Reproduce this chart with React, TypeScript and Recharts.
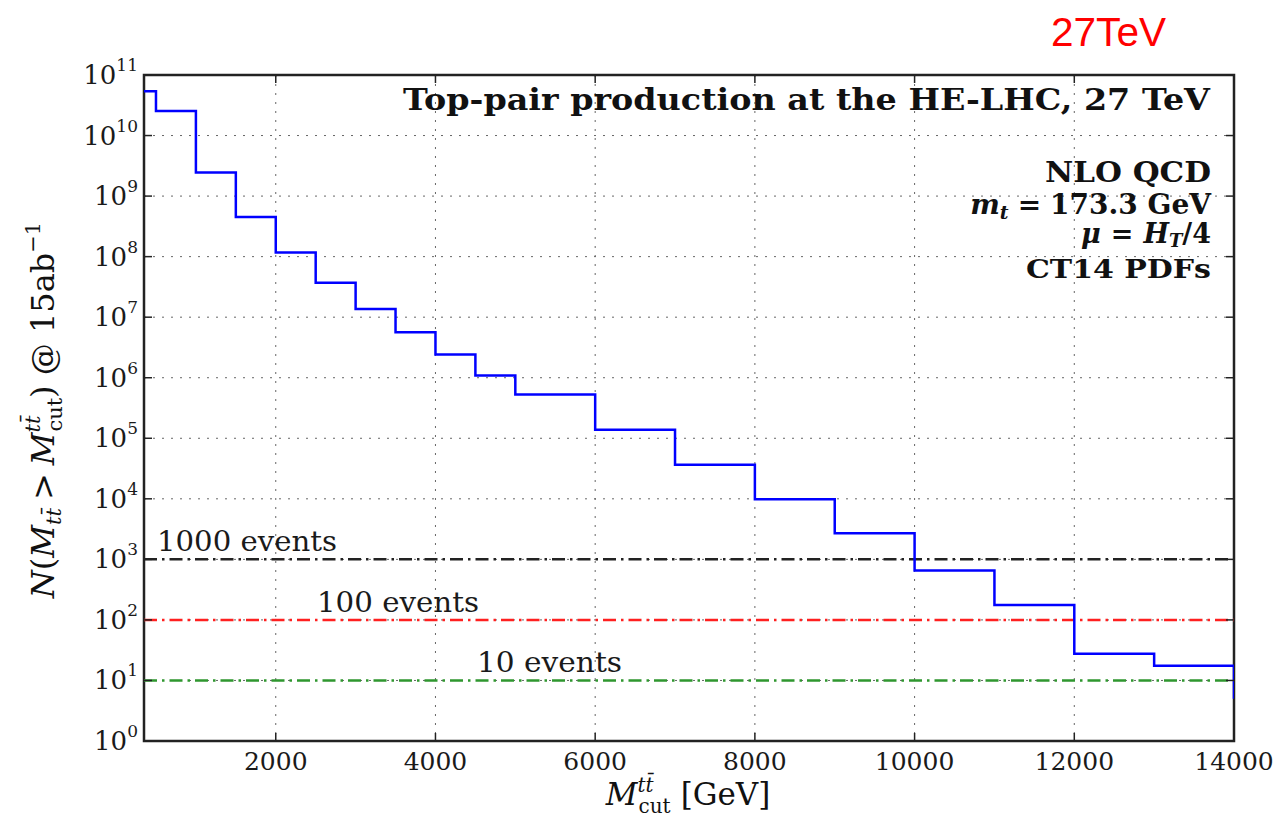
import React from 'react';
import {
  LineChart,
  Line,
  XAxis,
  YAxis,
  CartesianGrid,
  ReferenceLine,
  ReferenceArea,
} from 'recharts';

// bin lower edges [GeV] and cumulative event counts N(M > Mcut) @ 15 ab^-1
const binEdges = [350, 500, 1000, 1500, 2000, 2500, 3000, 3500, 4000, 4500, 5000, 6000, 7000, 8000, 9000, 10000, 11000, 12000, 13000, 14000];
const eventCounts = [5.4e10, 2.55e10, 2.45e9, 4.5e8, 1.17e8, 3.7e7, 1.37e7, 5.65e6, 2.42e6, 1.09e6, 5.3e5, 1.38e5, 3.64e4, 9.8e3, 2.71e3, 656, 176, 27.6, 17.5, 5];

const xTicks = [2000, 4000, 6000, 8000, 10000, 12000, 14000];
const yTicks = [1, 10, 100, 1e3, 1e4, 1e5, 1e6, 1e7, 1e8, 1e9, 1e10, 1e11];

const thresholds = [1000, 100, 10];
const thresholdLabels = ['1000 events', '100 events', '10 events'];
const thresholdColors = ['#222222', '#ff2020', '#2f972f'];

const data = binEdges.map((m, i) => ({ m, n: eventCounts[i] }));

const SERIF = '"DejaVu Serif", "Liberation Serif", serif';
const PLOT_W = 1090;
const PLOT_H = 666;

const XTick = ({ x, y, payload }: any) => (
  <g>
    <line x1={x} x2={x} y1={y - 7} y2={y - 15} stroke="#222" strokeWidth={1.5} />
    <line x1={x} x2={x} y1={y - 7 - PLOT_H} y2={y + 1 - PLOT_H} stroke="#222" strokeWidth={1.5} />
    <text x={x} y={y} dy={22} textAnchor="middle" fontFamily={SERIF} fontSize={25} fill="#1a1a1a">
      {payload.value}
    </text>
  </g>
);

const YTick = ({ x, y, payload }: any) => {
  const exp = Math.round(Math.log10(payload.value));
  return (
    <g>
      <line x1={x + 6} x2={x + 14} y1={y} y2={y} stroke="#222" strokeWidth={1.5} />
      <line x1={x + 6 + PLOT_W - 8} x2={x + 6 + PLOT_W} y1={y} y2={y} stroke="#222" strokeWidth={1.5} />
      <text x={x} y={y} textAnchor="end" fontFamily={SERIF} fill="#1a1a1a">
        <tspan dy={9} fontSize={26}>10</tspan>
        <tspan dy={-13} fontSize={17}>{exp}</tspan>
      </text>
    </g>
  );
};

const EventLabel = ({ viewBox, text, dx, w }: any) => (
  <text
    x={viewBox.x + dx}
    y={viewBox.y - 8}
    fontFamily={SERIF}
    fontSize={28}
    fill="#1a1a1a"
    textLength={w}
    lengthAdjust="spacingAndGlyphs"
  >
    {text}
  </text>
);

const labelOffsets = [13, 173, 333];
const labelWidths = [180, 162, 145];

export default function App() {
  return (
    <div style={{ position: 'absolute', left: 0, top: 0, width: 1286, height: 822, background: '#fff' }}>
      <LineChart width={1286} height={822} data={data} margin={{ top: 75, right: 52, bottom: 0, left: 0 }}>
        <CartesianGrid stroke="#666" strokeDasharray="2 7" />
        <XAxis
          dataKey="m"
          type="number"
          domain={[350, 14000]}
          ticks={xTicks}
          allowDataOverflow
          height={81}
          tickSize={0}
          tickMargin={7}
          axisLine={false}
          tick={<XTick />}
        />
        <YAxis
          type="number"
          scale="log"
          domain={[1, 1e11]}
          ticks={yTicks}
          allowDataOverflow
          width={144}
          tickSize={0}
          tickMargin={6}
          axisLine={false}
          tick={<YTick />}
        />
        {thresholds.map((t, i) => (
          <ReferenceLine
            key={t}
            y={t}
            stroke={thresholdColors[i]}
            strokeWidth={2.5}
            strokeDasharray="13 5 2.5 5"
            label={<EventLabel text={thresholdLabels[i]} dx={labelOffsets[i]} w={labelWidths[i]} />}
          />
        ))}
        <Line
          type="stepAfter"
          dataKey="n"
          stroke="#0000ff"
          strokeWidth={2.5}
          dot={false}
          isAnimationActive={false}
        />
        <ReferenceArea
          x1={350}
          x2={14000}
          y1={1}
          y2={1e11}
          fill="none"
          fillOpacity={0}
          stroke="#222"
          strokeWidth={2.5}
          ifOverflow="visible"
        />
      </LineChart>
      <svg width={1286} height={822} style={{ position: 'absolute', left: 0, top: 0, pointerEvents: 'none' }}>
        <text x={1051} y={46} fontFamily='"Liberation Sans", sans-serif' fontSize={40} fill="#ff0000" textLength={115} lengthAdjust="spacingAndGlyphs">
          27TeV
        </text>
        <g fontFamily={SERIF} fill="#111" fontWeight="bold" textAnchor="end">
          <text x={1210} y={110} fontSize={30} textLength={807} lengthAdjust="spacingAndGlyphs">
            Top-pair production at the HE-LHC, 27 TeV
          </text>
          <text x={1211} y={182} fontSize={27} textLength={166} lengthAdjust="spacingAndGlyphs">NLO QCD</text>
          <text x={1211} y={214} fontSize={28}>
            <tspan fontStyle="italic">m</tspan>
            <tspan fontSize={19} dy={5} fontStyle="italic">t</tspan>
            <tspan dy={-5} dx={9}>=</tspan>
            <tspan dx={9}>173.3 GeV</tspan>
          </text>
          <text x={1211} y={243} fontSize={27}>
            <tspan fontStyle="italic">μ</tspan>
            <tspan dx={10}>=</tspan>
            <tspan dx={10} fontStyle="italic">H</tspan>
            <tspan fontSize={18} dy={4} fontStyle="italic">T</tspan>
            <tspan dy={-4}>/4</tspan>
          </text>
          <text x={1211} y={278} fontSize={26} textLength={185} lengthAdjust="spacingAndGlyphs">CT14 PDFs</text>
        </g>
        <text x={688} y={805} textAnchor="middle" fontFamily={SERIF} fontSize={31} fill="#111">
          <tspan fontStyle="italic">M</tspan>
          <tspan fontSize={20} dy={-13} fontStyle="italic">tt̄</tspan>
          <tspan fontSize={20} dx={-15} dy={21}>cut</tspan>
          <tspan dy={-8} dx={10}>[GeV]</tspan>
        </text>
        <text
          x={54}
          y={410}
          transform="rotate(-90, 54, 410)"
          textAnchor="middle"
          fontFamily={SERIF}
          fontSize={32}
          fill="#111"
        >
          <tspan fontStyle="italic">N</tspan>
          <tspan>(</tspan>
          <tspan fontStyle="italic">M</tspan>
          <tspan fontSize={21} dy={7} fontStyle="italic">tt̄</tspan>
          <tspan dy={-7} dx={8}>&gt;</tspan>
          <tspan dx={8} fontStyle="italic">M</tspan>
          <tspan fontSize={21} dy={-14} fontStyle="italic">tt̄</tspan>
          <tspan fontSize={21} dx={-16} dy={22}>cut</tspan>
          <tspan dy={-8}>) @ 15ab</tspan>
          <tspan fontSize={21} dy={-14}>−1</tspan>
        </text>
      </svg>
    </div>
  );
}
